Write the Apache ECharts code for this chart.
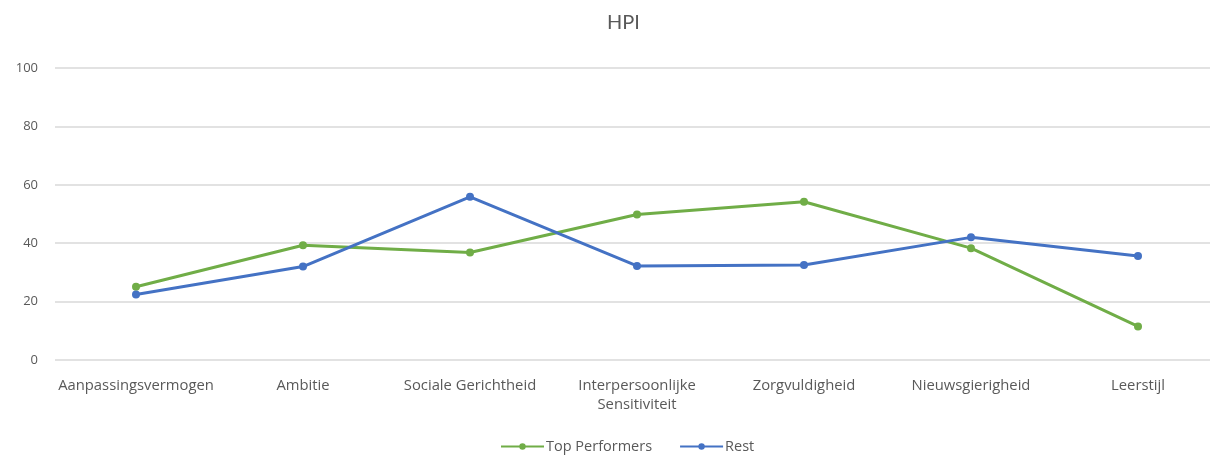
<!DOCTYPE html>
<html><head><meta charset="utf-8">
<script src="https://cdn.jsdelivr.net/npm/echarts@6/dist/echarts.min.js"></script>
<style>html,body{margin:0;padding:0;background:#fff}#c{width:1210px;height:455px}</style>
</head><body><div id="c"></div>
<script>
const categories = ['Aanpassingsvermogen','Ambitie','Sociale Gerichtheid','Interpersoonlijke\nSensitiviteit','Zorgvuldigheid','Nieuwsgierigheid','Leerstijl'];
const topPerformers = [25.1, 39.3, 36.8, 49.8, 54.2, 38.3, 11.5];
const rest = [22.4, 32.0, 55.9, 32.2, 32.5, 42.0, 35.6];
const yTicks = [0, 20, 40, 60, 80, 100];

const chart = echarts.init(document.getElementById('c'));
const font = '"Open Sans", Lato, sans-serif';
const yMin = yTicks[0], yMax = yTicks[yTicks.length-1];
chart.setOption({
  animation: false,
  title: { text: 'HPI', left: 602, top: 8, textStyle: { fontFamily: 'Lato, sans-serif', fontSize: 20, fontWeight: 'normal', color: '#595959' } },
  legend: { data: ['Top Performers','Rest'], left: 495, top: 434, itemWidth: 43, itemHeight: 8, itemGap: 27,
    textStyle: { fontFamily: font, fontSize: 14.5, color: '#595959', padding: [0,0,0,-3] } },
  grid: [
    { left: 136, right: 72, top: 68, bottom: 95, containLabel: false },
    { left: 55, right: 0, top: 68, bottom: 95, containLabel: false }
  ],
  xAxis: [
    { type: 'category', gridIndex: 0, data: categories, boundaryGap: false,
      axisLine: { show: false }, axisTick: { show: false }, splitLine: { show: false },
      axisLabel: { interval: 0, margin: 16, fontFamily: font, fontSize: 14.8, color: '#595959', lineHeight: 19 } },
    { type: 'value', gridIndex: 1, show: false }
  ],
  yAxis: [
    { type: 'value', gridIndex: 0, min: yMin, max: yMax, interval: 20, show: false, splitLine: { show: false } },
    { type: 'value', gridIndex: 1, min: yMin, max: yMax, interval: 20,
      axisLine: { show: false }, axisTick: { show: false },
      axisLabel: { margin: 17, fontFamily: font, fontSize: 13, color: '#595959' },
      splitLine: { lineStyle: { color: '#d9d9d9', width: 1.5 } } }
  ],
  series: [
    { name: 'Top Performers', type: 'line', data: topPerformers, symbol: 'circle', symbolSize: 8, z: 3,
      itemStyle: { color: '#70AD47' }, lineStyle: { color: '#70AD47', width: 3 } },
    { name: 'Rest', type: 'line', data: rest, symbol: 'circle', symbolSize: 8, z: 3,
      itemStyle: { color: '#4472C4' }, lineStyle: { color: '#4472C4', width: 3 } }
  ]
});
</script></body></html>
